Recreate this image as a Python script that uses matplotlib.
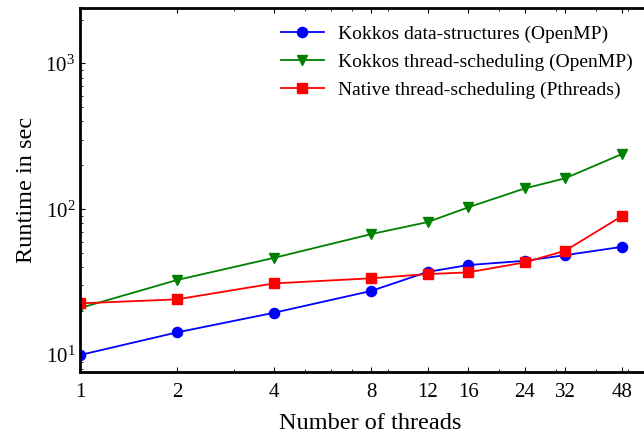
import matplotlib
matplotlib.use("Agg")
import matplotlib.pyplot as plt
from matplotlib.ticker import ScalarFormatter, NullFormatter

plt.rcParams['font.family'] = ['Liberation Serif', 'DejaVu Serif']
plt.rcParams['mathtext.fontset'] = 'stix'
plt.rcParams['xtick.direction'] = 'in'
plt.rcParams['ytick.direction'] = 'in'
plt.rcParams['xtick.top'] = True
plt.rcParams['ytick.right'] = True

threads = [1, 2, 4, 8, 12, 16, 24, 32, 48]
kokkos_ds = [10.0, 14.3, 19.5, 27.5, 37.2, 41.4, 44.3, 48.4, 55.2]
kokkos_ts = [21.0, 32.7, 46.4, 67.5, 81.7, 103, 139, 163, 239]
native_ts = [22.6, 24.1, 31.0, 33.6, 35.9, 36.9, 43.2, 51.9, 89.7]

labels = ['Kokkos data-structures (OpenMP)',
          'Kokkos thread-scheduling (OpenMP)',
          'Native thread-scheduling (Pthreads)']

fig = plt.figure(figsize=(6.44, 4.33), dpi=100)
# axes run a bit past the right edge of the figure (cropped like the original)
ax = fig.add_axes([0.1242, 0.1409, 0.9006, 0.8406])

ax.plot(threads, kokkos_ds, color='b', marker='o', markersize=7.3, lw=1.3, label=labels[0])
ax.plot(threads, kokkos_ts, color='g', marker='v', markersize=7.3, lw=1.3, label=labels[1])
ax.plot(threads, native_ts, color='r', marker='s', markersize=7.3, lw=1.3, label=labels[2])

ax.set_xscale('log')
ax.set_yscale('log')
ax.set_xlim(1, 63)
ax.set_ylim(7.65, 2400)
ax.set_xticks(threads)
ax.xaxis.set_major_formatter(ScalarFormatter())
ax.xaxis.set_minor_formatter(NullFormatter())
ax.tick_params(labelsize=15)
ax.tick_params(axis='x', which='major', pad=8)
for s in ax.spines.values():
    s.set_linewidth(2)

ax.set_xlabel('Number of threads', fontsize=17.5, labelpad=8)
ax.set_ylabel('Runtime in sec', fontsize=17.5, labelpad=6)
ax.legend(loc='upper right', bbox_to_anchor=(633 / 644, 1 - 25 / 433),
          bbox_transform=fig.transFigure, frameon=False, fontsize=14,
          labelspacing=0.53, borderpad=0, borderaxespad=0,
          handlelength=2.2, handletextpad=0.75)

fig.savefig('out.png', dpi=100)
